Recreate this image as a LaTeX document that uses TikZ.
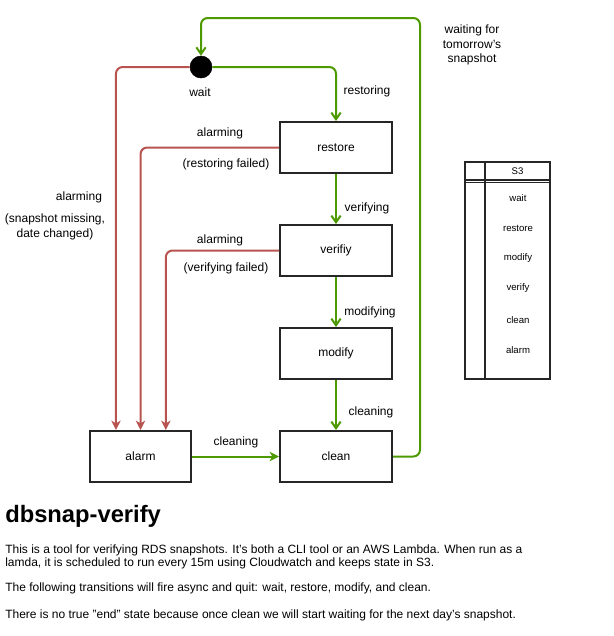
\documentclass[tikz,border=0pt]{standalone}
\usepackage{fontspec}
\setmainfont{Liberation Sans}
\usetikzlibrary{arrows.meta,positioning}
\definecolor{okgreen}{HTML}{4D9900}
\definecolor{failred}{HTML}{B85450}

\begin{document}
\begin{tikzpicture}[x=0.75pt,y=-0.75pt,node distance=37.5pt and 65.25pt,
state/.style={rectangle, draw=black!85, line width=1.5pt, minimum width=84pt, minimum height=38.25pt, font=\fontsize{9}{11}\selectfont},
ok/.style={draw=okgreen, line width=1.5pt, rounded corners=5pt, -{Straight Barb[length=5pt,width=7pt]}},
fail/.style={draw=failred, line width=1.5pt, rounded corners=5pt, -{Stealth[length=7pt,width=7pt,inset=2pt]}},
lbl/.style={font=\fontsize{9}{11}\selectfont, inner sep=0pt},
cell/.style={font=\fontsize{7.2}{8.5}\selectfont, inner sep=0pt},
para/.style={anchor=base west, font=\fontsize{9}{11}\selectfont, inner sep=0pt}] % states are boxes, ok = green transition, fail = red transition
\useasboundingbox (0,0) rectangle (614,636);

% states
\node[circle, fill=black, draw=black, minimum size=16.5pt, inner sep=0pt](wait) at (201,67){};
\node[state](restore) at (336,147.5){restore};
\node[state](verify)[below=of restore]{verifiy};
\node[state](modify)[below=of verify]{modify};
\node[state](clean)[below=of modify]{clean};
\node[state, minimum width=75.75pt](alarm)[left=of clean]{alarm};
\coordinate (back) at (420,18); % corner of the way back to wait

% transitions
\draw[ok](wait.east) -| (restore.north);
\draw[ok](restore) -- (verify);
\draw[ok](verify) -- (modify);
\draw[ok](modify) -- (clean);
\draw[ok, -{Stealth[length=7pt,width=7pt,inset=2pt]}](alarm) -- (clean);
\draw[ok](clean.east) -| (back) -| (wait.north);
\draw[fail](wait.west) -| ([xshift=-18.4pt]alarm.north);
\draw[fail](restore.west) -| (alarm.north);
\draw[fail](verify.west) -| ([xshift=19pt]alarm.north);

% labels
\node[lbl](l-wait) at (200,92){wait};
\node[lbl](l-restoring) at (367,91){restoring};
\node[lbl](l-verifying) at (367,208){verifying};
\node[lbl](l-modifying) at (370,312){modifying};
\node[lbl](l-cleaning) at (371,412){cleaning};
\node[lbl](l-cleaning2) at (236,442){cleaning};
\node[lbl](l-alarm1) at (220,133){alarming};
\node[lbl](l-fail1) at (226,164){(restoring failed)};
\node[lbl](l-alarm2) at (220,240){alarming};
\node[lbl](l-fail2) at (226,268){(verifying failed)};
\node[lbl](l-alarm0) at (79,197){alarming};
\node[lbl, align=center](l-fail0) at (55,227){(snapshot missing,\\date changed)};
\node[lbl, align=center](l-back) at (472,45){waiting for\\tomorrow's\\snapshot};

% S3 table
\draw[draw=black!85, line width=1pt] (465,162) rectangle (550,379);
\draw[draw=black!85, line width=1pt] (485,162) -- (485,379);
\draw[draw=black!85, line width=0.8pt] (465,180) -- (550,180) (465,182.5) -- (550,182.5);
\node[cell](s3) at (517.5,171){S3};
\foreach \name/\y in {wait/198, restore/228, modify/258, verify/288, clean/320, alarm/350}
  \node[cell](row-\name) at (518,\y){\name};

% text below
\node[anchor=base west, font=\bfseries\fontsize{17.8}{20}\selectfont, inner sep=0pt](title) at (5,522){dbsnap-verify};
\node[para](p1a) at (5,553){This is a tool for verifying RDS snapshots. It's both a CLI tool or an AWS Lambda. When run as a};
\node[para](p1b) at (5,566){lamda, it is scheduled to run every 15m using Cloudwatch and keeps state in S3.};
\node[para](p2) at (5,591){The following transitions will fire async and quit: wait, restore, modify, and clean.};
\node[para](p3) at (5,618){There is no true "end" state because once clean we will start waiting for the next day's snapshot.};
\end{tikzpicture}
\end{document}
